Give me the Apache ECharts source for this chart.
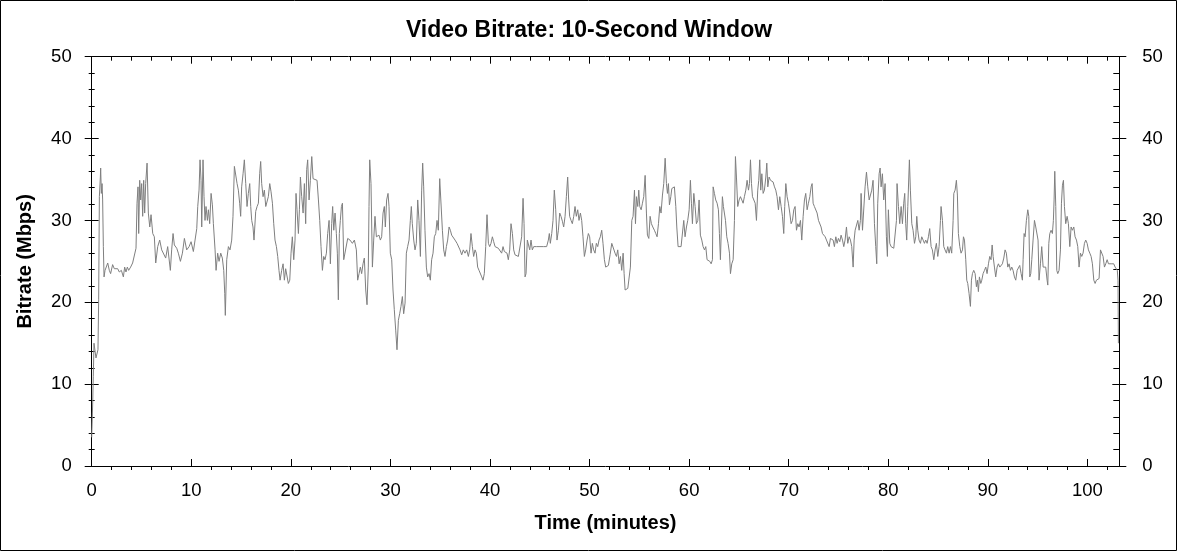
<!DOCTYPE html>
<html>
<head>
<meta charset="utf-8">
<script src="https://cdn.jsdelivr.net/npm/echarts@6/dist/echarts.min.js"></script>
<style>
html,body{margin:0;padding:0;background:#fff;}
#chart{width:1178px;height:552px;}
</style>
</head>
<body>
<div id="chart"></div>
<script>
var titleText = 'Video Bitrate: 10-Second Window';
var xAxisName = 'Time (minutes)';
var yAxisName = 'Bitrate (Mbps)';
var xMin = 0, xMax = 103.2, xStep = 10;
var yMin = 0, yMax = 50, yStep = 10;

// time in minutes
var times = [
0.00,0.10,0.16,0.23,0.33,0.43,0.56,0.63,0.70,0.77,0.87,0.90,0.97,1.04,1.10,1.17,1.24,1.34,1.47,1.61,1.77,1.90,2.10,2.27,2.44,2.61,2.77,2.98,3.18,3.31,3.44,3.58,3.71,3.91,4.11,4.31,4.45,4.55,4.65,4.72,4.82,4.92,5.02,5.12,5.22,5.32,
5.42,5.56,5.69,5.83,5.96,6.13,6.29,6.43,6.63,6.83,7.03,7.23,7.43,7.63,7.90,8.03,8.17,8.30,8.54,8.70,8.91,9.11,9.31,9.54,9.78,9.98,
10.21,10.38,10.55,10.65,10.78,10.88,10.98,11.05,11.18,11.28,11.38,11.48,11.62,11.72,11.85,11.99,12.12,12.22,12.39,12.49,12.65,12.79,12.96,13.12,13.26,13.36,13.42,13.56,13.73,13.89,
14.06,14.19,14.33,14.46,14.60,14.73,14.86,14.96,15.06,15.20,15.33,15.47,15.60,15.73,15.87,15.97,16.07,16.20,16.30,16.47,16.61,16.74,16.87,16.97,17.07,17.21,17.34,17.48,17.61,17.74,17.88,
18.01,18.15,18.28,18.41,18.55,18.68,18.81,18.92,19.08,19.22,19.35,19.48,19.62,19.75,19.89,20.02,20.15,20.29,20.42,20.52,20.62,20.76,20.86,20.96,21.09,21.23,21.36,21.49,21.59,21.69,21.83,21.96,
22.10,22.23,22.43,22.63,22.77,22.90,23.03,23.17,23.30,23.43,23.57,23.70,23.84,23.97,24.10,24.20,24.31,24.44,24.57,24.67,24.77,24.87,24.97,25.08,25.18,25.31,
25.44,25.71,25.94,26.18,26.38,26.58,26.71,26.85,26.98,27.11,27.25,27.38,27.52,27.65,27.78,27.85,27.92,28.05,28.19,28.32,28.45,28.59,28.72,28.85,28.99,29.12,29.26,29.39,29.49,29.62,29.76,29.86,29.99,
30.13,30.26,30.39,30.53,30.66,30.80,30.93,31.06,31.20,31.33,31.47,31.60,31.73,31.87,32.00,32.10,32.20,32.34,32.47,32.60,32.74,32.87,33.01,33.14,33.24,33.34,33.47,33.61,33.74,33.88,
34.01,34.14,34.28,34.41,34.55,34.68,34.81,34.95,35.08,35.22,35.35,35.48,35.62,35.75,35.89,36.02,36.15,36.35,36.49,36.69,36.82,36.99,37.16,37.32,37.49,37.66,37.83,37.96,
38.09,38.23,38.36,38.50,38.63,38.76,38.90,39.03,39.17,39.30,39.43,39.57,39.70,39.84,39.97,40.10,40.24,40.37,40.51,40.67,40.84,41.01,41.17,41.31,41.44,41.58,41.71,41.84,41.98,
42.11,42.25,42.38,42.51,42.68,42.85,43.02,43.18,43.32,43.42,43.52,43.62,43.75,43.85,43.99,44.12,44.25,44.39,44.52,44.69,44.86,45.02,45.19,45.36,45.53,45.69,45.86,45.96,
46.06,46.20,46.33,46.46,46.60,46.73,46.87,47.00,47.13,47.27,47.40,47.54,47.67,47.80,47.90,48.00,48.14,48.27,48.41,48.54,48.67,48.81,48.94,49.08,49.21,49.34,49.48,49.61,49.75,49.88,
50.01,50.15,50.28,50.41,50.55,50.68,50.82,50.95,51.08,51.22,51.35,51.49,51.62,51.75,51.89,52.06,
52.23,52.40,52.56,52.70,52.83,52.97,53.10,53.23,53.37,53.47,53.57,53.70,53.84,53.97,54.10,54.24,54.37,54.51,54.61,54.71,54.84,54.94,55.04,55.18,55.31,55.44,55.58,55.71,55.81,55.95,
56.08,56.21,56.35,56.51,56.65,56.78,56.92,57.05,57.18,57.32,57.45,57.59,57.72,57.82,57.92,58.02,58.16,58.26,58.39,58.52,58.66,58.76,58.89,59.03,59.19,59.33,59.46,59.59,59.73,59.86,
60.00,60.13,60.23,60.33,60.47,60.60,60.73,60.87,61.00,61.13,61.27,61.40,61.54,61.67,61.80,61.94,62.07,62.21,62.34,62.41,62.54,62.67,62.81,62.94,63.04,63.14,63.24,63.34,63.44,63.55,63.65,63.78,63.91,
64.05,64.15,64.28,64.42,64.55,64.65,64.75,64.88,65.02,65.15,65.29,65.42,65.55,65.69,65.82,65.96,66.06,66.16,66.26,66.36,66.49,66.63,66.76,66.89,66.99,67.09,67.19,67.30,67.43,67.56,67.70,67.80,67.90,
68.03,68.17,68.30,68.43,68.57,68.70,68.83,68.97,69.10,69.24,69.37,69.50,69.60,69.71,69.84,69.97,70.11,70.24,70.38,70.51,70.64,70.78,70.91,71.04,71.18,71.31,71.45,71.58,71.71,71.85,71.98,
72.12,72.25,72.35,72.45,72.58,72.72,72.85,72.99,73.12,73.25,73.39,73.52,73.66,73.79,73.92,74.06,74.19,74.32,74.46,74.59,74.73,74.86,74.99,75.13,75.26,75.40,75.53,75.66,75.80,75.93,
76.07,76.20,76.33,76.47,76.57,76.67,76.80,76.94,77.07,77.20,77.27,77.41,77.54,77.67,77.81,77.94,78.08,78.21,78.34,78.47,78.61,78.74,78.84,78.94,79.08,79.18,79.28,79.41,79.54,79.68,79.81,79.91,
80.01,80.15,80.28,80.42,80.55,80.68,80.82,80.88,81.02,81.15,81.29,81.42,81.55,81.65,81.75,81.85,81.96,82.06,82.12,82.22,82.36,82.49,82.63,82.76,82.86,82.96,83.09,83.23,83.36,83.50,83.63,83.76,83.90,
84.03,84.16,84.30,84.43,84.57,84.70,84.83,84.97,85.10,85.24,85.30,85.44,85.57,85.70,85.84,85.97,86.11,86.24,86.37,86.51,86.58,86.71,86.84,86.94,87.04,87.18,87.31,87.45,87.55,87.65,87.78,87.88,87.98,
88.11,88.25,88.35,88.45,88.58,88.72,88.85,88.95,89.05,89.15,89.29,89.39,89.52,89.66,89.79,89.92,90.06,90.19,90.32,90.43,90.53,90.66,90.79,90.93,91.06,91.20,91.33,91.46,91.60,91.73,91.86,
92.00,92.13,92.27,92.40,92.53,92.67,92.80,92.94,93.07,93.20,93.34,93.47,93.54,93.64,93.74,93.87,94.01,94.11,94.21,94.31,94.41,94.54,94.68,94.81,94.94,95.04,95.14,95.28,95.41,95.55,95.68,95.81,95.95,
96.02,96.12,96.22,96.35,96.48,96.58,96.65,96.72,96.82,96.92,97.02,97.15,97.29,97.39,97.49,97.59,97.69,97.82,97.96,98.09,98.23,98.36,98.49,98.63,98.76,98.90,99.03,99.16,99.30,99.43,99.56,99.70,99.83,99.97,
100.10,100.24,100.37,100.50,100.64,100.77,100.90,101.04,101.17,101.31,101.44,101.57,101.71,101.84,101.98,102.11,102.24,102.38,102.51,102.64,102.78,102.91,103.00,103.07,103.11
];

// bitrate in Mbps
var bitrates = [
3.5,7.7,10.9,15.0,15.2,13.2,13.4,14.2,20.3,32.9,35.3,36.4,33.3,34.5,32.5,26.8,23.1,23.9,24.1,24.8,23.9,23.5,24.6,24.1,23.9,24.1,23.7,23.9,23.1,24.3,23.7,24.3,23.9,24.3,24.8,24.6,26.6,32.1,34.1,28.4,34.9,32.5,34.5,30.5,34.9,30.9,
34.5,37.0,30.9,29.2,30.7,28.4,28.0,24.8,26.8,27.6,26.4,26.4,25.4,26.8,23.9,26.4,28.4,27.0,26.6,26.0,25.0,26.0,27.8,26.4,26.8,27.4,
26.2,27.6,29.0,31.7,33.7,37.4,34.9,29.2,37.4,32.9,30.0,31.7,30.0,31.3,29.6,33.3,31.9,29.6,26.4,23.9,26.0,25.0,26.0,25.4,23.9,21.1,18.4,25.2,26.8,26.4,
27.6,30.5,36.6,36.4,34.5,33.7,32.1,30.5,34.1,35.7,37.4,34.5,31.7,33.3,34.5,31.7,30.0,29.2,27.6,31.1,31.7,32.1,35.7,37.2,34.5,32.9,33.7,31.7,31.9,32.9,34.5,
33.5,32.1,29.6,27.6,26.8,25.6,23.9,22.7,23.9,24.7,22.7,24.1,24.3,22.3,22.7,26.0,28.0,25.2,27.6,33.3,31.3,28.4,31.3,35.3,32.9,30.9,34.5,29.6,36.2,37.4,32.5,34.9,
37.8,35.1,35.0,34.9,32.5,30.0,26.8,23.9,25.6,25.2,26.0,28.4,30.0,24.7,29.6,31.7,28.8,30.9,28.4,26.0,20.3,28.4,30.0,31.7,32.1,25.2,
25.0,27.8,27.6,27.2,27.6,26.4,22.7,23.5,24.3,23.5,24.7,25.4,21.5,19.7,24.3,31.7,37.4,34.5,24.3,27.6,30.5,28.0,27.8,28.2,27.6,28.0,30.9,31.7,29.2,32.5,33.3,31.7,26.0,
25.2,21.5,19.1,16.6,14.2,17.8,18.6,19.5,20.7,18.6,19.9,26.0,26.8,27.6,30.0,31.7,29.6,27.6,26.4,27.2,32.5,30.0,25.6,33.7,37.0,34.1,28.8,24.3,23.1,23.5,
22.7,25.2,26.0,28.0,28.4,30.0,28.8,35.1,35.1,28.8,26.4,25.6,26.8,27.6,29.2,28.8,28.2,28.0,27.6,27.2,27.0,26.4,25.8,26.4,26.0,26.4,25.6,26.4,
28.4,26.8,25.6,26.4,26.0,24.3,23.9,23.7,23.1,22.7,23.5,26.8,30.7,27.2,26.8,27.2,28.0,27.4,26.8,27.0,26.6,26.4,26.0,26.8,26.2,26.4,26.0,25.2,26.4,
29.6,28.4,26.4,25.8,25.6,25.6,25.8,28.0,32.7,29.6,23.1,23.5,27.6,27.8,26.4,27.6,26.4,26.8,26.6,26.8,26.6,26.8,26.9,26.8,27.0,26.8,27.6,28.4,
27.2,28.4,30.0,33.7,31.3,27.6,28.8,30.9,30.5,29.9,29.2,30.5,32.9,35.3,32.5,30.5,30.0,29.6,30.5,31.7,30.5,31.3,30.0,30.9,30.0,28.0,25.6,26.4,27.6,28.4,
28.0,26.0,27.2,26.4,26.0,27.2,26.8,27.6,28.0,28.8,27.2,25.2,24.3,24.1,24.5,25.8,
27.2,27.4,26.0,25.6,26.4,24.7,25.6,23.9,26.0,23.5,21.5,21.3,21.7,21.9,24.3,30.0,30.5,33.7,29.6,32.9,31.7,33.7,31.7,31.3,32.1,32.9,35.5,30.9,28.2,27.8,
30.5,29.6,29.2,28.8,28.4,28.0,29.6,31.7,30.9,33.1,34.5,37.6,34.5,33.3,34.5,31.9,32.9,33.9,33.7,34.1,31.7,29.2,26.8,26.6,26.8,26.6,30.0,28.0,29.2,30.0,
31.3,34.9,32.1,29.6,33.3,31.7,29.6,30.0,32.5,28.2,27.6,26.8,26.4,26.8,25.2,25.0,25.0,24.7,25.2,34.1,33.3,32.5,32.1,31.3,28.4,25.2,29.2,32.9,31.7,31.7,30.0,28.0,27.2,
26.0,23.5,24.7,25.2,30.0,37.8,35.3,31.7,32.5,32.9,32.5,32.1,32.9,33.7,34.9,33.7,34.5,37.4,34.5,32.9,32.9,32.1,30.0,33.7,34.9,37.4,33.7,35.7,33.3,33.7,35.3,37.0,34.1,
35.3,34.9,35.1,34.7,34.1,33.7,32.9,31.3,32.9,31.7,30.5,28.4,31.7,34.5,32.9,32.1,30.9,29.6,30.0,31.3,31.7,28.8,29.6,29.2,30.0,27.6,30.5,32.5,33.3,31.3,32.1,
32.9,34.1,34.5,32.1,31.7,31.7,30.9,30.0,30.0,29.2,28.4,28.4,28.0,27.6,27.6,26.8,27.8,28.0,27.6,26.8,28.0,27.2,27.8,27.4,28.2,27.6,26.8,27.6,29.2,27.2,
28.0,27.6,26.8,24.3,27.6,28.8,29.0,30.0,28.8,30.0,33.3,28.8,28.8,34.1,35.9,34.1,32.5,32.5,33.7,34.9,29.6,26.8,24.7,32.1,35.7,36.4,34.1,35.7,32.5,34.5,28.0,25.6,
31.3,27.2,26.8,26.8,26.6,26.4,30.0,34.5,31.7,29.6,31.7,29.6,32.1,33.3,29.6,27.6,31.7,35.3,37.4,33.7,29.6,28.8,27.2,28.0,30.5,28.8,27.6,27.2,28.0,27.6,27.2,27.6,27.2,
28.0,29.0,26.8,26.4,25.2,26.4,27.2,25.6,26.8,30.0,31.7,30.0,26.8,26.4,26.0,26.8,26.0,26.8,26.0,30.0,33.3,33.7,34.9,33.1,28.4,26.8,26.0,26.4,28.0,27.6,25.2,22.7,22.3,
21.1,19.5,22.7,23.5,23.9,23.5,21.9,22.7,21.3,23.1,22.3,22.7,23.5,23.9,24.3,23.5,24.7,25.6,25.2,27.0,25.6,24.3,23.1,24.3,24.7,24.3,24.5,24.7,25.4,26.4,26.0,
24.3,24.7,23.9,24.3,23.9,23.1,22.7,23.9,23.7,24.5,23.5,22.7,25.2,28.4,28.0,30.0,31.3,30.5,23.1,23.5,25.2,27.6,30.0,29.2,29.0,27.6,22.7,24.7,26.8,24.3,24.5,24.3,22.7,
22.1,27.2,28.4,28.8,28.4,30.0,32.5,36.0,31.7,23.9,23.5,23.9,26.4,32.1,34.3,34.9,31.7,29.6,30.5,29.6,26.8,29.2,28.8,29.2,28.0,27.6,26.8,24.3,26.0,25.6,26.0,27.2,27.6,27.2,
26.4,26.0,25.6,24.7,22.7,22.3,22.7,22.7,22.9,26.4,26.6,25.6,24.3,24.7,25.2,24.7,24.9,24.7,24.5,24.7,24.3,24.5,23.9,22.7,15.0
];

var lineData = times.map(function (t, i) { return [t, bitrates[i]]; });

var FONT = 'Arial, "Liberation Sans", sans-serif';
var BLACK = '#000';

function xBase(extra) {
  var o = {
    type: 'value', min: xMin, max: xMax, interval: xStep,
    splitLine: { show: false },
    axisLine: { show: false, onZero: false, lineStyle: { color: BLACK, width: 1 } },
    axisTick: { show: false },
    minorTick: { show: false },
    axisLabel: { show: false }
  };
  for (var k in extra) o[k] = extra[k];
  return o;
}
function yBase(extra) {
  var o = {
    type: 'value', min: yMin, max: yMax, interval: yStep,
    splitLine: { show: false },
    axisLine: { show: false, onZero: false, lineStyle: { color: BLACK, width: 1 } },
    axisTick: { show: false },
    minorTick: { show: false },
    axisLabel: { show: false }
  };
  for (var k in extra) o[k] = extra[k];
  return o;
}

var chart = echarts.init(document.getElementById('chart'), null, { renderer: 'canvas' });
chart.setOption({
  animation: false,
  backgroundColor: '#fff',
  title: {
    text: titleText, left: 'center', top: 14,
    textStyle: { fontFamily: FONT, fontSize: 23, fontWeight: 'bold', color: BLACK }
  },
  graphic: [{
    type: 'rect', silent: true, z: 100,
    shape: { x: 0.5, y: 0.5, width: 1176, height: 550 },
    style: { fill: 'none', stroke: BLACK, lineWidth: 1 }
  }],
  grid: { left: 91.7, right: 58.7, top: 56.7, bottom: 86, containLabel: false },
  xAxis: [
    xBase({
      position: 'bottom',
      axisLine: { show: true, onZero: false, lineStyle: { color: BLACK, width: 1 } },
      axisTick: { show: true, inside: true, length: 7, lineStyle: { color: BLACK } },
      axisLabel: { show: true, margin: 15, fontFamily: FONT, fontSize: 18.5, color: BLACK,
                   showMinLabel: true, showMaxLabel: false },
      name: xAxisName, nameLocation: 'middle', nameGap: 47,
      nameTextStyle: { fontFamily: FONT, fontSize: 20, fontWeight: 'bold', color: BLACK }
    }),
    xBase({
      position: 'bottom',
      axisTick: { show: false, inside: false },
      minorTick: { show: true, splitNumber: 5, length: 4, lineStyle: { color: BLACK, width: 1 } }
    }),
    xBase({
      position: 'top',
      axisLine: { show: true, onZero: false, lineStyle: { color: BLACK, width: 1 } },
      axisTick: { show: true, inside: true, length: 7, lineStyle: { color: BLACK } },
      minorTick: { show: true, splitNumber: 5, length: 4, lineStyle: { color: BLACK, width: 1 } }
    })
  ],
  yAxis: [
    yBase({
      position: 'left',
      axisLine: { show: true, onZero: false, lineStyle: { color: BLACK, width: 1 } },
      axisTick: { show: true, inside: false, length: 7, lineStyle: { color: BLACK } },
      minorTick: { show: true, splitNumber: 5, length: 3, lineStyle: { color: BLACK, width: 1 } },
      axisLabel: { show: true, margin: 20, fontFamily: FONT, fontSize: 18.5, color: BLACK },
      name: yAxisName, nameLocation: 'middle', nameGap: 56,
      nameTextStyle: { fontFamily: FONT, fontSize: 20, fontWeight: 'bold', color: BLACK }
    }),
    yBase({
      position: 'left',
      axisTick: { show: true, inside: true, length: 7, lineStyle: { color: BLACK } },
      minorTick: { show: true, splitNumber: 5, length: 3, lineStyle: { color: BLACK, width: 1 } }
    }),
    yBase({
      position: 'right',
      axisLine: { show: true, onZero: false, lineStyle: { color: BLACK, width: 1 } },
      axisTick: { show: true, inside: true, length: 7, lineStyle: { color: BLACK } },
      minorTick: { show: true, splitNumber: 5, length: 6, lineStyle: { color: BLACK, width: 1 } }
    }),
    yBase({
      position: 'right',
      axisTick: { show: true, inside: false, length: 7, lineStyle: { color: BLACK } },
      axisLabel: { show: true, margin: 23, fontFamily: FONT, fontSize: 18.5, color: BLACK }
    })
  ],
  series: [{
    type: 'line',
    xAxisIndex: 0, yAxisIndex: 0,
    data: lineData,
    showSymbol: false, symbol: 'none',
    sampling: null,
    lineStyle: { color: '#7f7f7f', width: 1 },
    silent: true
  }]
});
</script>
</body>
</html>
